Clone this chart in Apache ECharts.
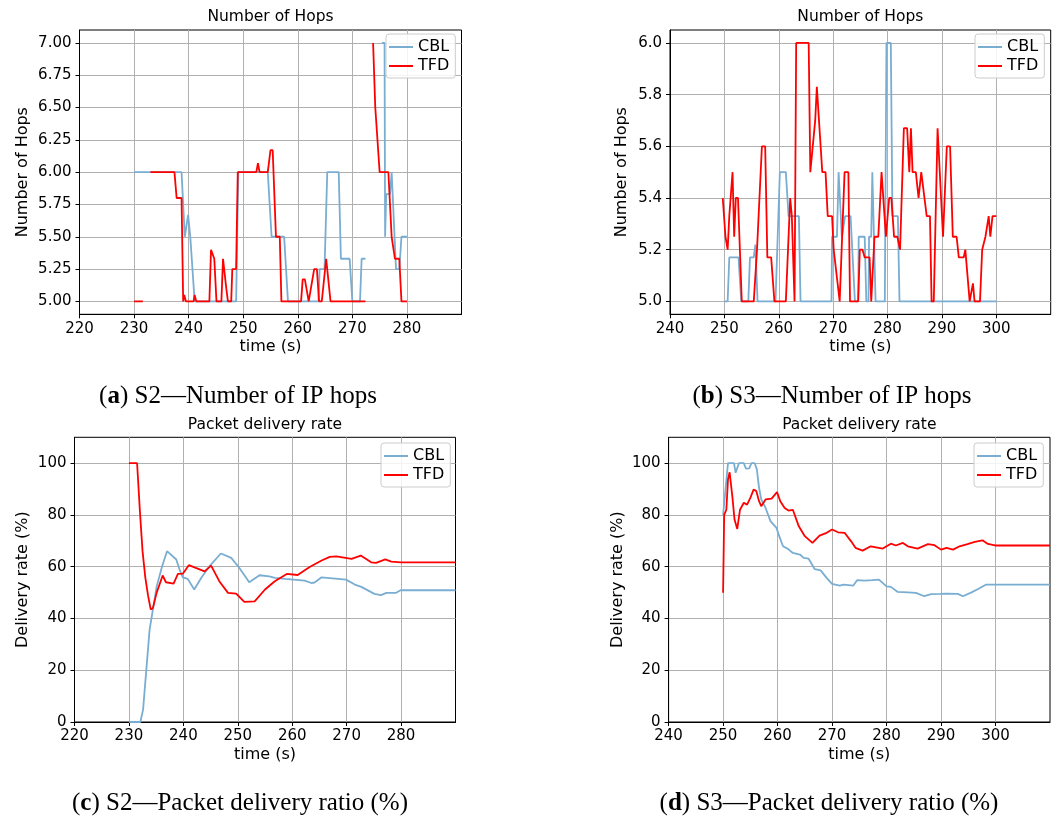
<!DOCTYPE html>
<html><head><meta charset="utf-8">
<script src="https://cdn.jsdelivr.net/npm/echarts@6/dist/echarts.min.js"></script>
<style>html,body{margin:0;padding:0;background:#fff}#c{width:1056px;height:818px}</style>
</head><body><div id="c"></div><script>
// ---------- data ----------
const seriesNames = ['CBL', 'TFD'];
// (a) S2 number of hops
const aCblT = [230, 238.7, 239.3, 239.9, 240.3, 240.5, 241.1, 248.7, 249.1, 254.5, 255.2, 257.5, 258.2, 263.8, 264.0, 264.9, 265.4, 267.5, 267.9, 269.5, 270.0, 271.4, 271.7, 272.4, 273.0, 275.4, 275.9, 276.0, 276.2, 276.9, 277.2, 277.5, 278.0, 278.6, 279.0, 280.0];
const aCblV = [6, 6, 5.5, 5.67, 5.5, 5.5, 5, 5, 6, 6, 5.5, 5.5, 5, 5, 5.25, 5.25, 6, 6, 5.33, 5.33, 5, 5, 5.33, 5.33, null, 7, 7, 5.5, 5.83, 5.83, 6, 6, 5.25, 5.25, 5.5, 5.5];
const aTfdT = [230, 231.6, 231.8, 233.0, 237.4, 237.8, 238.7, 239.0, 239.2, 239.5, 240.9, 241.1, 241.4, 243.8, 244.1, 244.4, 244.7, 245.1, 246.0, 246.3, 246.6, 246.9, 247.2, 247.8, 248.0, 248.7, 249.0, 252.4, 252.7, 253.0, 254.5, 255.0, 255.4, 256.0, 256.7, 257.0, 260.6, 260.9, 261.3, 262.0, 263.0, 263.5, 263.9, 264.4, 265.2, 266.0, 272.4, 273.0, 273.8, 274.2, 274.5, 275.0, 276.6, 277.2, 277.5, 277.8, 278.6, 279.0, 280.0];
const aTfdV = [5, 5, null, 6, 6, 5.8, 5.8, 5, 5.05, 5, 5, 5.05, 5, 5, 5.4, 5.4, 5.33, 5, 5, 5.33, 5.33, 5.1, 5, 5, 5.25, 5.25, 6, 6, 6.07, 6, 6, 6.17, 6.17, 5.5, 5.5, 5, 5, 5.17, 5.17, 5, 5.25, 5.25, 5, 5, 5.33, 5, 5, null, 7, 6.5, 6.5, 6, 6, 5.5, 5.5, 5.33, 5.33, 5, 5];
// (b) S3 number of hops
const bCblT = [250, 250.6, 250.9, 252.6, 253.1, 254.4, 254.7, 255.4, 255.7, 256.1, 259.4, 260.2, 261.3, 261.8, 263.7, 264.0, 269.7, 269.8, 270.7, 271.0, 271.3, 271.6, 271.9, 272.2, 273.2, 274.0, 274.6, 274.7, 275.8, 276.1, 276.5, 276.6, 277.0, 277.2, 277.4, 277.8, 279.5, 279.8, 280.6, 280.9, 281.9, 282.2, 300];
const bCblV = [5, 5, 5.17, 5.17, 5, 5, 5.17, 5.17, 5.22, 5, 5, 5.5, 5.5, 5.33, 5.33, 5, 5, 5.25, 5.25, 5.5, 5.5, 5.25, 5.25, 5.33, 5.33, 5, 5, 5.25, 5.25, 5, 5, 5.25, 5.25, 5.5, 5.5, 5, 5, 6, 6, 5.33, 5.33, 5, 5];
const bTfdT = [249.7, 250.0, 250.2, 250.6, 250.9, 251.2, 251.5, 251.8, 252.1, 252.5, 253.2, 255.4, 256.0, 256.3, 256.9, 257.5, 257.9, 258.6, 259.2, 261.3, 262.1, 262.4, 262.9, 263.2, 265.5, 265.8, 266.7, 267.0, 267.3, 268.0, 268.6, 269.0, 269.8, 270.1, 270.4, 271.2, 272.1, 272.8, 273.1, 274.6, 274.9, 275.4, 275.8, 276.7, 277.0, 277.6, 278.3, 278.9, 279.2, 279.7, 280.3, 280.7, 281.2, 281.8, 282.3, 283.0, 283.6, 284.0, 284.3, 284.6, 285.2, 285.7, 286.0, 286.2, 286.5, 287.2, 287.8, 288.1, 288.5, 289.2, 290.2, 290.9, 291.5, 292.0, 292.7, 293.1, 294.0, 294.3, 295.1, 295.7, 296.0, 297.0, 297.4, 297.7, 298.0, 298.3, 298.6, 298.9, 299.3, 300.0];
const bTfdV = [5.4, 5.4, 5.25, 5.2, 5.33, 5.33, 5.5, 5.25, 5.4, 5.4, 5, 5, 5.2, 5.2, 5.6, 5.6, 5.17, 5.17, 5, 5, 5.4, 5.33, 5, 6, 6, 5.5, 5.7, 5.83, 5.83, 5.5, 5.5, 5.33, 5.33, 5.2, 5.2, 5, 5.5, 5.5, 5, 5, 5.2, 5.2, 5.17, 5.17, 5, 5.25, 5.25, 5.5, 5.5, 5.25, 5.4, 5.4, 5.25, 5.25, 5.2, 5.67, 5.67, 5.5, 5.67, 5.5, 5.5, 5.4, 5.4, 5.5, 5.5, 5.33, 5.33, 5, 5, 5.67, 5.25, 5.6, 5.6, 5.25, 5.25, 5.17, 5.17, 5.2, 5, 5.07, 5, 5, 5.2, 5.2, 5.25, 5.25, 5.33, 5.25, 5.33, 5.33];
// (c) S2 packet delivery rate
const cCblT = [230, 232.1, 232.6, 233.1, 233.8, 234.4, 235.1, 236.1, 237.0, 238.7, 239.3, 239.9, 240.8, 242.0, 243.3, 244.8, 246.9, 248.8, 250.3, 252.1, 254.0, 255.8, 256.8, 258.7, 262.3, 263.5, 264.1, 265.4, 269.9, 271.5, 272.7, 275.1, 276.3, 277.3, 279.1, 279.9, 290];
const cCblV = [0, 0, 4.8, 17.7, 35.7, 43.4, 52.4, 60.2, 66, 62.8, 58.9, 55.9, 55.3, 51.2, 55.7, 60.2, 65.1, 63.4, 59.5, 54, 56.7, 56.3, 55.7, 55.3, 54.6, 53.7, 53.9, 55.9, 55, 53.1, 52.2, 49.5, 49, 49.9, 49.9, 50.9, 50.9];
const cTfdT = [230, 231.5, 232.0, 232.5, 233.0, 233.5, 234.0, 234.4, 235.1, 236.2, 236.8, 238.2, 239.0, 239.9, 241.0, 243.9, 245.1, 246.6, 248.2, 249.7, 251.2, 253.1, 255.0, 256.8, 259.0, 261.0, 263.2, 265.4, 266.9, 268.1, 270.9, 272.6, 274.5, 275.4, 277.1, 278.2, 280.0, 290];
const cTfdV = [100, 100, 82, 66, 56, 49, 43.5, 44, 50, 56.6, 54, 53.5, 57.2, 57.3, 60.6, 58.2, 60.4, 54.4, 49.9, 49.6, 46.4, 46.6, 51.2, 54.4, 57.2, 56.8, 59.9, 62.4, 63.8, 64, 63, 64.3, 61.7, 61.5, 62.8, 62, 61.7, 61.7];
// (d) S3 packet delivery rate
const dCblT = [250, 250.9, 252.0, 252.3, 252.6, 252.9, 253.8, 254.2, 254.8, 255.2, 255.8, 256.2, 256.6, 257.0, 257.8, 258.7, 259.8, 260.3, 261.0, 261.9, 262.8, 264.1, 264.8, 265.7, 266.8, 267.9, 269.0, 270.0, 271.4, 272.1, 273.9, 274.6, 275.9, 277.4, 278.6, 280.0, 280.8, 282.0, 283.9, 285.4, 286.9, 288.2, 289.8, 291.0, 293.1, 294.0, 295.6, 296.8, 298.3, 299.9, 310];
const dCblV = [80, 100, 100, 96.3, 96.5, 100, 100, 97.9, 98, 100, 100, 97.6, 90.5, 86, 82.7, 77.6, 75, 71.8, 67.9, 66.9, 65.3, 64.7, 63.4, 63.1, 59.1, 58.6, 55.7, 53.4, 52.7, 53.1, 52.7, 54.8, 54.6, 54.8, 55, 52.4, 52.2, 50.3, 50.1, 49.9, 48.6, 49.4, 49.5, 49.6, 49.5, 48.6, 50.1, 51.4, 53.1, 53.1, 53.1];
const dTfdT = [250, 250.2, 250.6, 250.9, 251.2, 251.7, 252.1, 252.6, 253.1, 253.8, 254.4, 255.0, 255.6, 256.1, 256.6, 257.0, 257.8, 258.9, 259.9, 260.5, 261.3, 262.0, 262.8, 263.9, 265.0, 266.4, 267.7, 269.0, 270.0, 271.1, 272.3, 273.5, 274.3, 275.6, 277.1, 279.3, 280.8, 281.7, 283.0, 283.9, 285.7, 287.6, 288.8, 290.0, 291.0, 292.2, 293.4, 295.0, 296.2, 297.6, 298.6, 299.9, 310];
const dTfdV = [49.9, 80, 82, 93.7, 96.5, 87.2, 78.2, 74.6, 82, 84.7, 84, 86.6, 89.8, 89.2, 85.3, 83.4, 86, 86.3, 88.8, 85.3, 82.7, 81.7, 82, 75.6, 71.8, 69.2, 72, 73.1, 74.4, 73.3, 73.1, 69.8, 67.3, 66.2, 67.9, 67, 68.9, 68.2, 69.2, 67.9, 67, 68.7, 68.3, 66.6, 67.3, 66.6, 67.9, 68.8, 69.6, 70.2, 68.8, 68.2, 68.2];
// tick labels
const s2XTicks = [220, 230, 240, 250, 260, 270, 280];
const s3XTicks = [240, 250, 260, 270, 280, 290, 300];
const aYTicks = [5, 5.25, 5.5, 5.75, 6, 6.25, 6.5, 6.75, 7];
const bYTicks = [5, 5.2, 5.4, 5.6, 5.8, 6];
const rateYTicks = [0, 20, 40, 60, 80, 100];
// text
const plotTitles = ['Number of Hops', 'Number of Hops', 'Packet delivery rate', 'Packet delivery rate'];
const captions = ['({b|a}) S2—Number of IP hops', '({b|b}) S3—Number of IP hops', '({b|c}) S2—Packet delivery ratio (%)', '({b|d}) S3—Packet delivery ratio (%)'];
const yNames = ['Number of Hops', 'Number of Hops', 'Delivery rate (%)', 'Delivery rate (%)'];

// ---------- build ----------
const SANS = 'DejaVu Sans';
const SERIF = 'Liberation Serif';
const BLUE = '#79add2', RED = '#ff0000';
function zip(t, v) { return t.map((x, i) => [x, v[i] === null ? '-' : v[i]]); }

const grids = [
  { left: 79.5, top: 30, width: 382, height: 284.3 },
  { left: 670, top: 30, width: 380.7, height: 284.3 },
  { left: 74.5, top: 437.3, width: 381, height: 284.7 },
  { left: 668.6, top: 437.3, width: 381.4, height: 284.7 }
];
const xRanges = [[220, 290, s2XTicks], [240, 310, s3XTicks], [220, 290, s2XTicks], [240, 310, s3XTicks]];
const yRanges = [[4.9, 7.1, aYTicks, 2], [4.95, 6.05, bYTicks, 1], [0, 110, rateYTicks, 0], [0, 110, rateYTicks, 0]];
const yNameGaps = [49, 40, 44, 43];
const legendPos = [[386, 34], [975, 34], [381, 443], [974, 443]];
const titleY = [9, 9, 417, 417];
const captionPos = [[238, 384], [832, 384], [240, 791], [829, 791]];
const seriesData = [
  [zip(aCblT, aCblV), zip(aTfdT, aTfdV)],
  [zip(bCblT, bCblV), zip(bTfdT, bTfdV)],
  [zip(cCblT, cCblV), zip(cTfdT, cTfdV)],
  [zip(dCblT, dCblV), zip(dTfdT, dTfdV)]
];

const option = {
  animation: false,
  backgroundColor: '#fff',
  grid: grids.map(g => Object.assign({ show: true, borderColor: '#000', borderWidth: 1, backgroundColor: 'transparent', containLabel: false }, g)),
  xAxis: xRanges.map((r, i) => ({
    type: 'value', gridIndex: i, min: r[0], max: r[1],
    name: 'time (s)', nameLocation: 'middle', nameGap: 25,
    nameTextStyle: { fontSize: 16, color: '#000', fontFamily: SANS },
    axisLine: { show: true, onZero: false, lineStyle: { color: '#000', width: 1 } },
    axisTick: { show: true, inside: false, length: 4, lineStyle: { color: '#000' }, customValues: r[2] },
    axisLabel: { customValues: r[2], fontSize: 15, color: '#000', margin: 7, fontFamily: SANS },
    splitLine: { show: true, lineStyle: { color: '#b0b0b0', width: 1 } }
  })),
  yAxis: yRanges.map((r, i) => ({
    type: 'value', gridIndex: i, min: r[0], max: r[1],
    name: yNames[i], nameLocation: 'middle', nameGap: yNameGaps[i],
    nameTextStyle: { fontSize: 16, color: '#000', fontFamily: SANS },
    axisLine: { show: true, onZero: false, lineStyle: { color: '#000', width: 1 } },
    axisTick: { show: true, inside: false, length: 4, lineStyle: { color: '#000' }, customValues: r[2] },
    axisLabel: { customValues: r[2], fontSize: 15, color: '#000', margin: 8, fontFamily: SANS,
      formatter: v => Number(v).toFixed(r[3]) },
    splitLine: { show: true, lineStyle: { color: '#b0b0b0', width: 1 } }
  })),
  title: plotTitles.map((t, i) => ({
    text: t, left: grids[i].left + grids[i].width / 2, top: titleY[i], textAlign: 'center', padding: 0,
    textStyle: { fontSize: 15.5, fontWeight: 'normal', color: '#000', fontFamily: SANS }
  })).concat(captions.map((t, i) => ({
    text: t, left: captionPos[i][0], top: captionPos[i][1], textAlign: 'center', padding: 0,
    textStyle: { fontSize: 25, fontWeight: 'normal', color: '#000', fontFamily: SERIF,
      rich: { b: { fontSize: 25, fontWeight: 'bold', color: '#000', fontFamily: SERIF } } }
  }))),
  legend: legendPos.map(p => ({
    orient: 'vertical', left: p[0], top: p[1], data: seriesNames,
    icon: 'rect', itemWidth: 24, itemHeight: 2, itemGap: 3,
    padding: [5, 6, 4, 3],
    backgroundColor: 'rgba(255,255,255,0.85)', borderColor: '#cccccc', borderWidth: 1, borderRadius: 3,
    textStyle: { fontSize: 16, color: '#000', fontFamily: SANS }
  })),
  series: []
};
seriesData.forEach((pair, i) => {
  pair.forEach((d, k) => {
    const c = k === 0 ? BLUE : RED;
    option.series.push({
      type: 'line', name: seriesNames[k], xAxisIndex: i, yAxisIndex: i, data: d,
      symbol: 'none', showSymbol: false, connectNulls: false,
      lineStyle: { color: c, width: 1.8 }, itemStyle: { color: c }, z: 2 + k
    });
  });
});
const chart = echarts.init(document.getElementById('c'), null, { renderer: 'canvas' });
chart.setOption(option);
</script></body></html>
